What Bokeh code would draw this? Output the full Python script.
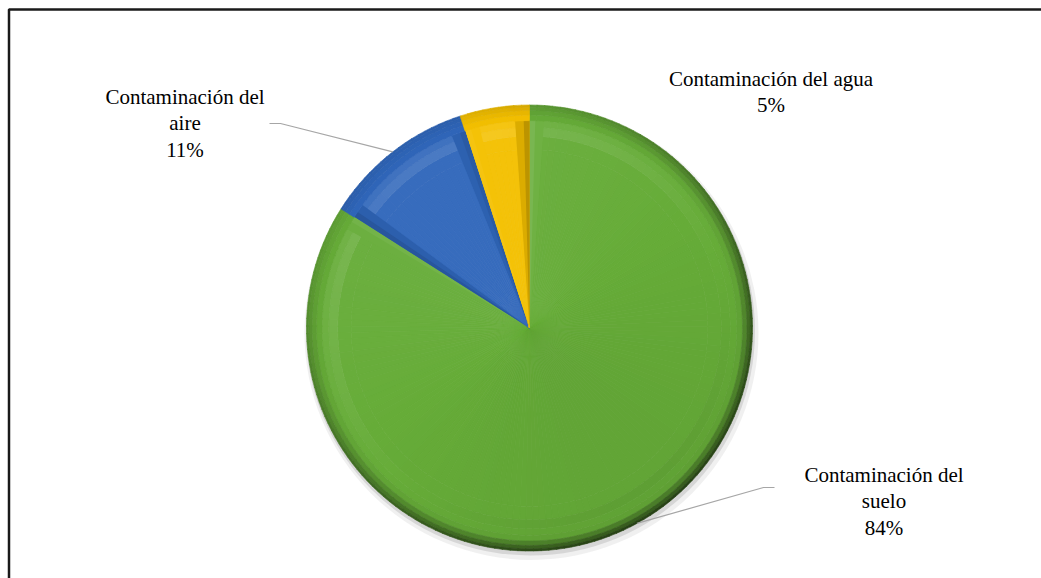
import math
import numpy as np
from bokeh.plotting import figure
from bokeh.models import Range1d, ColumnDataSource
from bokeh.core.properties import value
from bokeh.embed import file_html
from bokeh.resources import INLINE

# ---------------- data ----------------
categories = ["Contaminación del suelo", "Contaminación del aire", "Contaminación del agua"]
label_text = ["Contaminación del\nsuelo", "Contaminación del\naire", "Contaminación del agua"]
percents = [84, 11, 5]
colors = ["#66AC38", "#2F66BA", "#F4C000"]

# ---------------- layout ----------------
W, H = 1041, 578
CX, CY, R = 529.0, 250.5, 223.0
LABEL_X = [883.5, 184.5, 770.5]
LABEL_Y = [77.0, 455.0, 486.5]
LEADER_ELBOW = {0: [(774.0, 91.0), (763.0, 91.0)], 1: [(269.0, 455.0), (280.0, 455.0)]}
LIGHT = math.radians(125)
FRAME_X, FRAME_Y = 8.5, H - 9

p = figure(width=W, height=H, x_range=Range1d(0, W), y_range=Range1d(0, H),
           output_backend="svg", toolbar_location=None, min_border=0)
p.axis.visible = False
p.grid.visible = False
p.outline_line_color = None
p.background_fill_color = "white"
p.border_fill_color = "white"


def hex2rgb(h):
    h = h.lstrip("#")
    return [int(h[i:i + 2], 16) for i in (0, 2, 4)]


def shade(rgb, k):
    r = np.array(rgb, float)
    if k >= 0:
        r = r + (255 - r) * k
    else:
        r = r * (1 + k)
    r = np.clip(r, 0, 255)
    return "#%02x%02x%02x" % tuple(int(round(v)) for v in r)


def k_of(t, c):
    if t < 0.80:
        return 0.04 * c
    if t < 0.93:
        return 0.04 * c + (0.03 + 0.07 * c) * max(0.0, 1 - abs(t - 0.885) / 0.05)
    d = (t - 0.93) / 0.07
    return -(0.08 + 0.6 * (1 - c) / 2) * d ** 1.3


total = float(sum(percents))
starts, ends = [], []
cum = 0.0
for v in percents:
    a0 = math.pi / 2 - 2 * math.pi * cum / total
    cum += v
    a1 = math.pi / 2 - 2 * math.pi * cum / total
    starts.append(a1)
    ends.append(a0)

# soft shadow
p.circle(x=[CX + 2], y=[CY - 5], radius=R + 4, fill_color="#9a9a9a", fill_alpha=0.15, line_color=None)
p.circle(x=[CX + 1], y=[CY - 3], radius=R + 1.5, fill_color="#7a7a7a", fill_alpha=0.22, line_color=None)

bands = [0, 0.80, 0.86, 0.90, 0.93, 0.955, 0.975, 0.99, 1.0]
inner_src = dict(x=[], y=[], ri=[], ro=[], sa=[], ea=[], c=[])
outer_src = dict(x=[], y=[], ri=[], ro=[], sa=[], ea=[], c=[])
step = math.radians(2)
for i in range(len(percents)):
    base = hex2rgb(colors[i])
    lo, hi = starts[i], ends[i]
    n = max(1, int(math.ceil((hi - lo) / step)))
    for j in range(n):
        a = lo + (hi - lo) * j / n
        b = lo + (hi - lo) * (j + 1) / n
        c = math.cos((a + b) / 2 - LIGHT)
        for bi in range(len(bands) - 1):
            t = (bands[bi] + bands[bi + 1]) / 2
            src = inner_src if bands[bi + 1] <= 0.93 else outer_src
            src["x"].append(CX); src["y"].append(CY)
            src["ri"].append(bands[bi] * R); src["ro"].append(bands[bi + 1] * R)
            src["sa"].append(a); src["ea"].append(b + 0.002)
            src["c"].append(shade(base, k_of(t, c)))

p.annular_wedge(x="x", y="y", inner_radius="ri", outer_radius="ro", start_angle="sa", end_angle="ea",
                fill_color="c", line_color="c", line_width=0.6, source=ColumnDataSource(inner_src))

# bevel facets along radial edges
fac = dict(x=[], y=[], r=[], sa=[], ea=[], c=[])
for i in range(len(percents)):
    base = hex2rgb(colors[i])
    lo, hi = starts[i], ends[i]
    w = min(math.radians(4.0), (hi - lo) * 0.25)
    for edge, normal, sign in ((lo, lo - math.pi / 2, 1), (hi, hi + math.pi / 2, -1)):
        cn = math.cos(normal - LIGHT)
        k = 0.22 * cn if cn > 0 else 0.40 * cn
        for frac, kk in ((1.0, 0.45 * k), (0.4, k)):
            a, b = sorted([edge, edge + sign * w * frac])
            fac["x"].append(CX); fac["y"].append(CY); fac["r"].append(0.93 * R)
            fac["sa"].append(a); fac["ea"].append(b)
            fac["c"].append(shade(base, kk))
p.wedge(x="x", y="y", radius="r", start_angle="sa", end_angle="ea", fill_color="c",
        line_color=None, source=ColumnDataSource(fac))

p.annular_wedge(x="x", y="y", inner_radius="ri", outer_radius="ro", start_angle="sa", end_angle="ea",
                fill_color="c", line_color="c", line_width=0.6, source=ColumnDataSource(outer_src))

# leader lines
for i, elbow in LEADER_ELBOW.items():
    mid = (starts[i] + ends[i]) / 2
    px = CX + R * math.cos(mid)
    py = CY + R * math.sin(mid)
    xs = [e[0] for e in elbow] + [px]
    ys = [e[1] for e in elbow] + [py]
    p.line(xs, ys, line_color="#a6a6a6", line_width=1.2)

# labels
texts = ["%s\n%d%%" % (label_text[i], percents[i]) for i in range(len(percents))]
p.text(x=LABEL_X, y=LABEL_Y, text=texts, text_font=value("Liberation Serif"),
       text_font_size="21px", text_align="center", text_baseline="middle",
       text_line_height=1.1, text_color="#000000")

# chart-area border (left and top edges visible in the window)
p.line([FRAME_X, FRAME_X, W], [0, FRAME_Y, FRAME_Y], line_color="#1a1a1a", line_width=2.5)

open("out.html", "w").write(file_html(p, INLINE))
